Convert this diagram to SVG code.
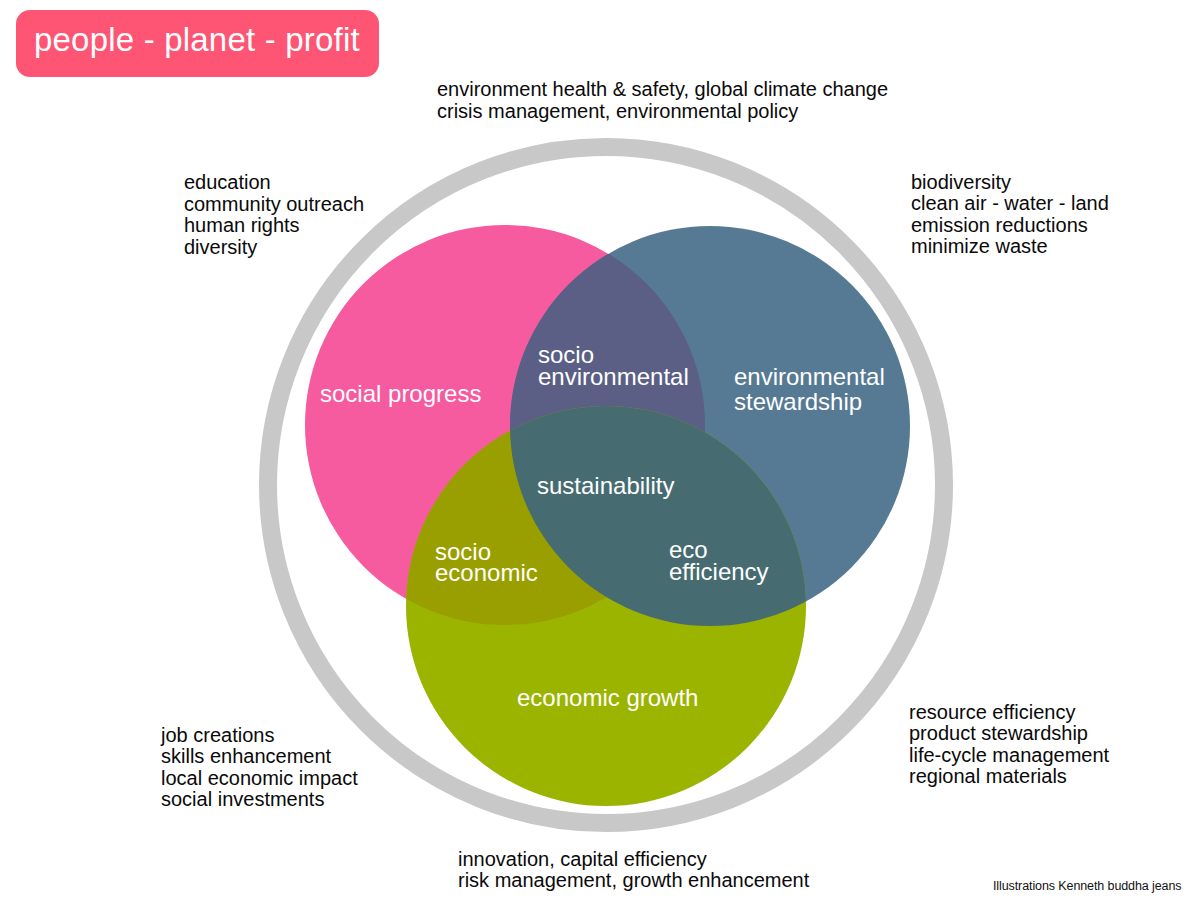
<svg xmlns="http://www.w3.org/2000/svg" width="1200" height="900" viewBox="0 0 1200 900">
<style>
.lbl{font-family:"Liberation Sans",Arial,sans-serif;font-size:20px;fill:#0a0a0a}
.in{font-family:"Liberation Sans",Arial,sans-serif;font-size:24px;fill:#fff}
</style>
<defs>
<clipPath id="cpPink"><circle cx="505" cy="425" r="200"/></clipPath>
<clipPath id="cpBlue"><circle cx="710" cy="426" r="200"/></clipPath>
</defs>
<rect width="1200" height="900" fill="#fff"/>
<g id="title">
<rect x="16" y="10" width="363" height="67" rx="14" fill="#FD5573"/>
<text x="34" y="51" style="font-family:'Liberation Sans',Arial,sans-serif;font-size:33px;fill:#fff;letter-spacing:0.2px">people - planet - profit</text>
</g>
<g id="ring"><circle cx="606" cy="485" r="338" fill="none" stroke="#C8C8C8" stroke-width="18"/></g>
<g id="social"><circle cx="505" cy="425" r="200" fill="#F65A9F"/></g>
<g id="environmental"><circle cx="710" cy="426" r="200" fill="#567A94"/></g>
<g id="economic"><circle cx="606" cy="606" r="200" fill="#9AB400"/></g>
<g id="socio-environmental"><circle cx="710" cy="426" r="200" fill="#5B5F85" clip-path="url(#cpPink)"/></g>
<g id="socio-economic"><circle cx="606" cy="606" r="200" fill="#9A9F00" clip-path="url(#cpPink)"/></g>
<g id="eco-efficiency"><circle cx="606" cy="606" r="200" fill="#466C71" clip-path="url(#cpBlue)"/></g>
<g id="labels-inner">
<text class="in" x="320" y="402">social progress</text>
<text class="in" x="538" y="363">socio</text>
<text class="in" x="538" y="385">environmental</text>
<text class="in" x="734" y="385">environmental</text>
<text class="in" x="734" y="410">stewardship</text>
<text class="in" x="537" y="494">sustainability</text>
<text class="in" x="435" y="560">socio</text>
<text class="in" x="435" y="581">economic</text>
<text class="in" x="669" y="558">eco</text>
<text class="in" x="669" y="580">efficiency</text>
<text class="in" x="517" y="706">economic growth</text>
</g>
<g id="labels-outer">
<text class="lbl" x="437" y="96">environment health &amp; safety, global climate change</text>
<text class="lbl" x="437" y="118">crisis management, environmental policy</text>
<text class="lbl" x="184" y="189">education</text>
<text class="lbl" x="184" y="211">community outreach</text>
<text class="lbl" x="184" y="232">human rights</text>
<text class="lbl" x="184" y="254">diversity</text>
<text class="lbl" x="911" y="189">biodiversity</text>
<text class="lbl" x="911" y="210">clean air - water - land</text>
<text class="lbl" x="911" y="232">emission reductions</text>
<text class="lbl" x="911" y="253">minimize waste</text>
<text class="lbl" x="161" y="742">job creations</text>
<text class="lbl" x="161" y="763">skills enhancement</text>
<text class="lbl" x="161" y="785">local economic impact</text>
<text class="lbl" x="161" y="806">social investments</text>
<text class="lbl" x="909" y="719">resource efficiency</text>
<text class="lbl" x="909" y="740">product stewardship</text>
<text class="lbl" x="909" y="762">life-cycle management</text>
<text class="lbl" x="909" y="783">regional materials</text>
<text class="lbl" x="458" y="866">innovation, capital efficiency</text>
<text class="lbl" x="458" y="887">risk management, growth enhancement</text>
</g>
<g id="credit"><text x="993" y="890" style="font-family:'Liberation Sans',Arial,sans-serif;font-size:12.5px;fill:#111;letter-spacing:-0.1px">Illustrations Kenneth buddha jeans</text></g>
</svg>
